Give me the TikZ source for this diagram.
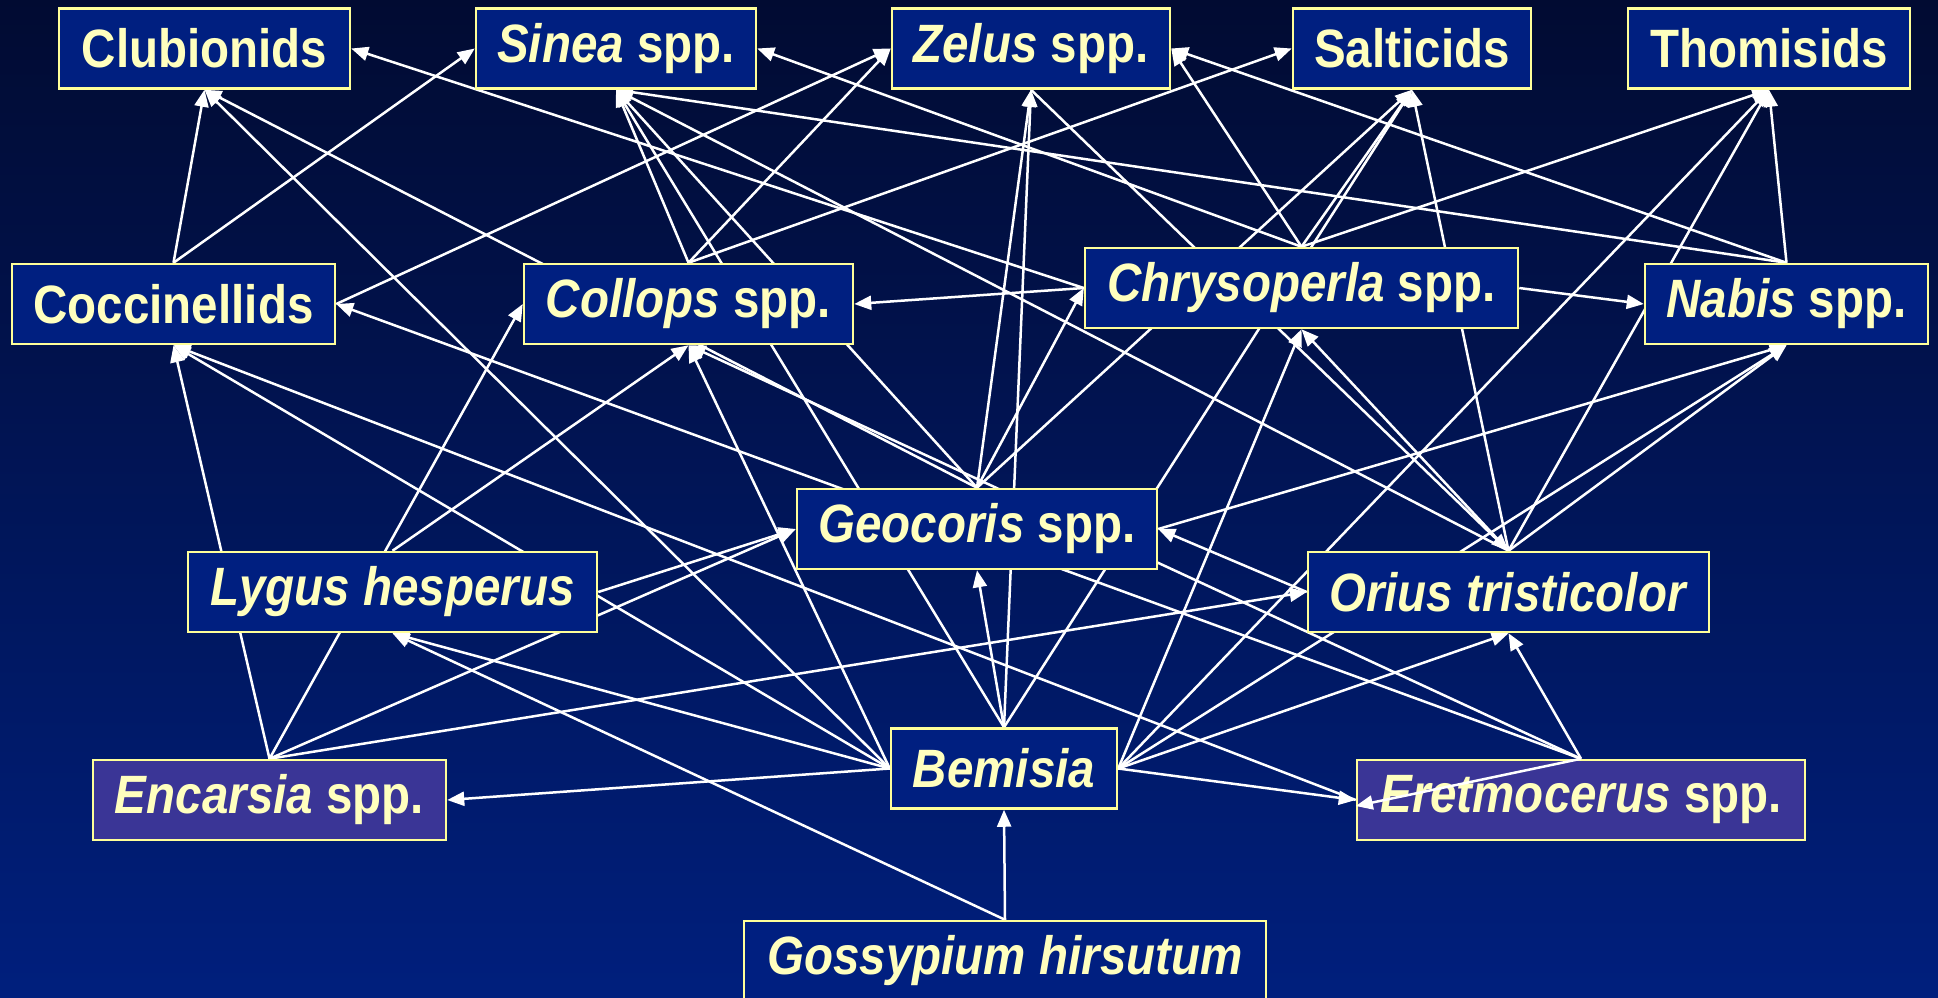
\documentclass[tikz,border=0pt]{standalone}
\usepackage{fontspec}
\setmainfont{Liberation Sans}[FakeStretch=0.88]
\usetikzlibrary{arrows.meta}
\definecolor{navytop}{RGB}{1,11,50}
\definecolor{navybot}{RGB}{0,31,125}
\definecolor{boxblue}{RGB}{0,31,128}
\definecolor{boxpurple}{RGB}{58,53,150}
\definecolor{paleyellow}{RGB}{255,255,153}
\definecolor{textyellow}{RGB}{255,255,190}
\pgfdeclarelayer{bg}
\pgfdeclarelayer{links}
\pgfsetlayers{bg,links,main}

\begin{document}
\begin{tikzpicture}[x=1pt, y=-1pt, every node/.style={align=center},
  taxon/.style={draw=paleyellow, line width=2.5pt, fill=boxblue, text=textyellow,
    font=\bfseries\fontsize{54}{60}\selectfont, minimum height=80pt, inner sep=0pt},
  parasitoid/.style={taxon, fill=boxpurple},
  feeds/.style={-{Triangle[length=17pt,width=14pt]}, white, line width=2.5pt}]
\useasboundingbox (0,0) rectangle (1938,997);
\begin{pgfonlayer}{bg}
\shade[top color=navytop, bottom color=navybot] (0,0) rectangle (1938,997);
\end{pgfonlayer}

% top row: spiders and reduviids
\node[taxon, minimum width=291pt] at (204.5,48.5) (clubionids) {Clubionids};
\node[taxon, minimum width=280pt] at (616,48.5) (sinea) {\textit{Sinea} spp.};
\node[taxon, minimum width=278pt] at (1031,48.5) (zelus) {\textit{Zelus} spp.};
\node[taxon, minimum width=238pt] at (1412,48.5) (salticids) {Salticids};
\node[taxon, minimum width=282pt] at (1769,48.5) (thomisids) {Thomisids};

% middle predators
\node[taxon, minimum width=323pt] at (173.5,304) (coccinellids) {Coccinellids};
\node[taxon, minimum width=329pt] at (688.5,304) (collops) {\textit{Collops} spp.};
\node[taxon, minimum width=433pt] at (1301.5,288) (chrysoperla) {\textit{Chrysoperla} spp.};
\node[taxon, minimum width=283pt] at (1786.5,304) (nabis) {\textit{Nabis} spp.};
\node[taxon, minimum width=360pt] at (977,529) (geocoris) {\textit{Geocoris} spp.};
\node[taxon, minimum width=409pt] at (392.5,592) (lygus) {\textit{Lygus hesperus}};
\node[taxon, minimum width=401pt] at (1508.5,592) (orius) {\textit{Orius tristicolor}};

% whitefly, parasitoids, plant
\node[parasitoid, minimum width=353pt] at (269.5,800) (encarsia) {\textit{Encarsia} spp.};
\node[taxon, minimum width=226pt] at (1004,768.5) (bemisia) {\textit{Bemisia}};
\node[parasitoid, minimum width=448pt] at (1581,800) (eretmocerus) {\textit{Eretmocerus} spp.};
\node[taxon, minimum width=522pt] at (1005,961) (gossypium) {\textit{Gossypium hirsutum}};

\begin{pgfonlayer}{links}
% plant
\draw[feeds] (gossypium.north) -- (bemisia.south);
\draw[feeds] (gossypium.north) -- (lygus.south);
% whitefly
\draw[feeds] (bemisia.west) -- (encarsia.east);
\draw[feeds] (bemisia.west) -- (lygus.south);
\draw[feeds] (bemisia.west) -- (coccinellids.south);
\draw[feeds] (bemisia.west) -- (clubionids.south);
\draw[feeds] (bemisia.west) -- (collops.south);
\draw[feeds] (bemisia.north) -- (geocoris.south);
\draw[feeds] (bemisia.north) -- (sinea.south);
\draw[feeds] (bemisia.north) -- (zelus.south);
\draw[feeds] (bemisia.north) -- (salticids.south);
\draw[feeds] (bemisia.east) -- (eretmocerus.west);
\draw[feeds] (bemisia.east) -- (orius.south);
\draw[feeds] (bemisia.east) -- (chrysoperla.south);
\draw[feeds] (bemisia.east) -- (thomisids.south);
\draw[feeds] (bemisia.east) -- (nabis.south);
% parasitoids
\draw[feeds] (encarsia.north) -- (coccinellids.south);
\draw[feeds] (encarsia.north) -- (collops.west);
\draw[feeds] (encarsia.north) -- (geocoris.west);
\draw[feeds] (encarsia.north) -- (orius.west);
\draw[feeds] (eretmocerus.north) -- (orius.south);
\draw[feeds] (eretmocerus.north) -- (coccinellids.east);
\draw[feeds] (eretmocerus.north) -- (collops.south);
\draw[feeds] (eretmocerus.west) -- (coccinellids.south);
% predators
\draw[feeds] (lygus.north) -- (collops.south);
\draw[feeds] (lygus.east) -- (geocoris.west);
\draw[feeds] (geocoris.north) -- (clubionids.south);
\draw[feeds] (geocoris.north) -- (sinea.south);
\draw[feeds] (geocoris.north) -- (zelus.south);
\draw[feeds] (geocoris.north) -- (salticids.south);
\draw[feeds] (geocoris.north) -- (chrysoperla.west);
\draw[feeds] (geocoris.east) -- (nabis.south);
\draw[feeds] (orius.west) -- (geocoris.east);
\draw[feeds] (orius.north) -- (sinea.south);
\draw[feeds] (orius.north) -- (salticids.south);
\draw[feeds] (orius.north) -- (thomisids.south);
\draw[feeds] (orius.north) -- (chrysoperla.south);
\draw[feeds] (orius.north) -- (nabis.south);
\draw[feeds] (zelus.south) -- (orius.north);
\draw[feeds] (coccinellids.north) -- (clubionids.south);
\draw[feeds] (coccinellids.north) -- (sinea.west);
\draw[feeds] (coccinellids.east) -- (zelus.west);
\draw[feeds] (collops.north) -- (sinea.south);
\draw[feeds] (collops.north) -- (zelus.west);
\draw[feeds] (collops.north) -- (salticids.west);
\draw[feeds] (chrysoperla.west) -- (clubionids.east);
\draw[feeds] (chrysoperla.west) -- (collops.east);
\draw[feeds] (chrysoperla.north) -- (sinea.east);
\draw[feeds] (chrysoperla.north) -- (zelus.east);
\draw[feeds] (chrysoperla.north) -- (salticids.south);
\draw[feeds] (chrysoperla.north) -- (thomisids.south);
\draw[feeds] (chrysoperla.east) -- (nabis.west);
\draw[feeds] (nabis.north) -- (thomisids.south);
\draw[feeds] (nabis.north) -- (zelus.east);
\draw[feeds] (nabis.north) -- (sinea.south);
\end{pgfonlayer}
% drawn over the box
\draw[feeds] (eretmocerus.north) -- ([yshift=-6pt]eretmocerus.west);
\end{tikzpicture}
\end{document}
